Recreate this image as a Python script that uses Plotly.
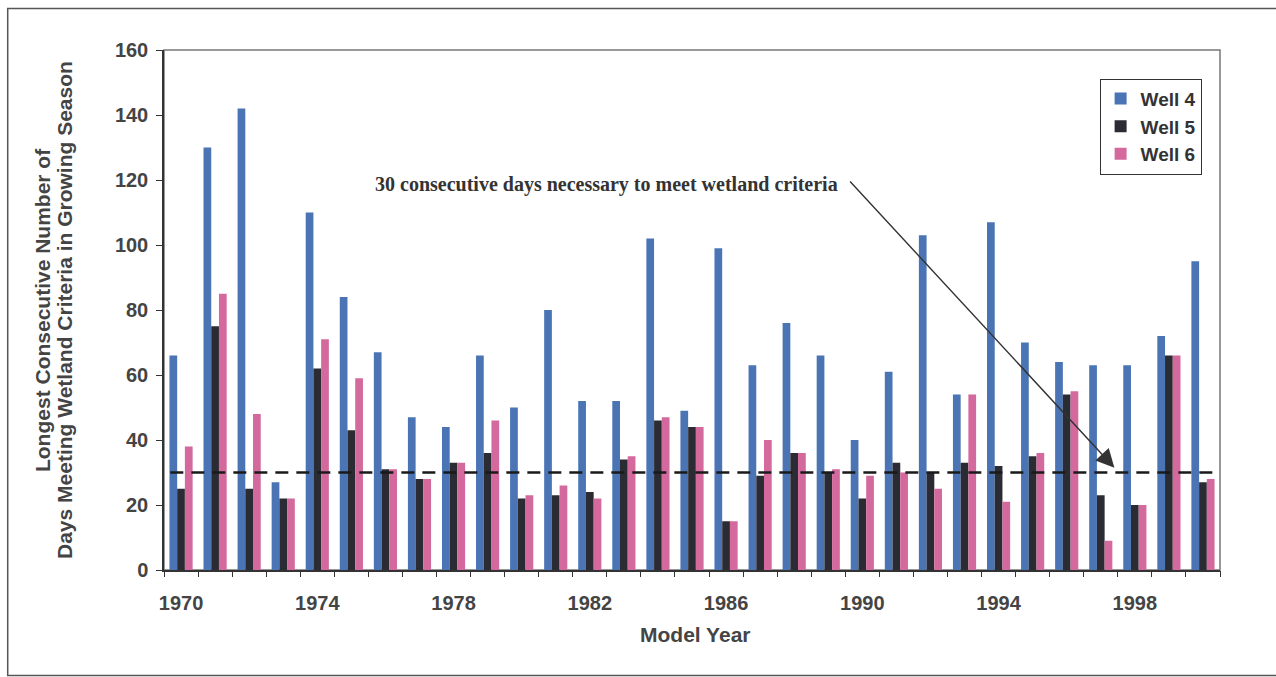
import plotly.graph_objects as go

# Model years and longest consecutive wet-day runs per well
years = list(range(1970, 2001))
well4 = [66, 130, 142, 27, 110, 84, 67, 47, 44, 66, 50, 80, 52, 52, 102, 49, 99, 63, 76, 66,
         40, 61, 103, 54, 107, 70, 64, 63, 63, 72, 95]
well5 = [25, 75, 25, 22, 62, 43, 31, 28, 33, 36, 22, 23, 24, 34, 46, 44, 15, 29, 36, 30,
         22, 33, 30, 33, 32, 35, 54, 23, 20, 66, 27]
well6 = [38, 85, 48, 22, 71, 59, 31, 28, 33, 46, 23, 26, 22, 35, 47, 44, 15, 40, 36, 31,
         29, 30, 25, 54, 21, 36, 55, 9, 20, 66, 28]
label_years = [1970, 1974, 1978, 1982, 1986, 1990, 1994, 1998]
y_ticks = [0, 20, 40, 60, 80, 100, 120, 140, 160]
THRESHOLD = 30

series = [("Well 4", well4, "#4a74b4"), ("Well 5", well5, "#2b2b33"), ("Well 6", well6, "#d4699d")]

fig = go.Figure()
for name, vals, color in series:
    fig.add_trace(go.Bar(x=years, y=vals, name=name, marker_color=color,
                         marker_line_width=0, legendgroup=name))

# invisible trace that carries the boundary tick marks on the overlay axis
fig.add_trace(go.Scatter(x=[years[0]], y=[0], xaxis="x2", mode="markers",
                         marker_opacity=0, showlegend=False, hoverinfo="skip"))

TEXT = "#444"
axis_font = dict(family="Liberation Sans, Arial", size=20, color=TEXT, weight="bold")
x_range = [years[0] - 0.5, years[-1] + 0.5]

fig.update_layout(
    width=1276, height=677,
    margin=dict(l=164, r=56, t=50, b=107),
    paper_bgcolor="white", plot_bgcolor="white",
    barmode="group", bargap=0.32, bargroupgap=0,
    showlegend=True,
    legend=dict(x=0.886, y=0.945, xanchor="left", yanchor="top",
                bordercolor="#333", borderwidth=1, bgcolor="white",
                font=dict(family="Liberation Sans, Arial", size=19, color="#333",
                          weight="bold"),
                tracegroupgap=5, traceorder="normal", itemwidth=30),
    xaxis=dict(range=x_range, tickmode="array", tickvals=label_years,
               ticktext=[str(y) for y in label_years], ticks="",
               tickfont=axis_font,
               showline=True, linecolor="#333", linewidth=1.5, showgrid=False,
               zeroline=False, ticklabelstandoff=14),
    xaxis2=dict(range=x_range, overlaying="x", side="bottom", anchor="y",
                tickmode="array", tickvals=[y + 0.5 for y in [years[0] - 1] + years],
                ticks="outside", ticklen=6, tickcolor="#333", tickwidth=1.2,
                showticklabels=False, showline=False, showgrid=False, zeroline=False),
    yaxis=dict(range=[0, 160], tickmode="array", tickvals=y_ticks, ticks="outside",
               ticklen=6, tickcolor="#333", tickwidth=1.2, tickfont=axis_font,
               showline=True, linecolor="#333", linewidth=1.5, showgrid=False,
               zeroline=False, ticklabelstandoff=4),
    font=dict(family="Liberation Sans, Arial"),
)

# 30-day wetland criterion
fig.add_shape(type="line", xref="paper", yref="y", x0=0.006, x1=0.998,
              y0=THRESHOLD, y1=THRESHOLD,
              line=dict(color="#1a1a1a", width=2.5, dash="13px,8px"))

# plot-area frame (top and right edges)
fig.add_shape(type="rect", xref="paper", yref="paper", x0=0, x1=1, y0=0, y1=1,
              line=dict(color="#777", width=1.5), layer="below")

# outer chart frame
fig.add_shape(type="rect", xref="paper", yref="paper",
              x0=-0.148, x1=1.131, y0=-0.203, y1=1.08,
              line=dict(color="#555", width=1.5), layer="below")

fig.add_annotation(
    x=1982.5, y=118.5, xref="x", yref="y", showarrow=False,
    text="<b>30 consecutive days necessary to meet wetland criteria</b>",
    font=dict(family="Liberation Serif, Times New Roman", size=20, color="#333"))

fig.add_annotation(
    x=1997.4, y=31.5, xref="x", yref="y", ax=1989.6, ay=120, axref="x", ayref="y",
    text="", showarrow=True, arrowhead=2, arrowsize=2.6, arrowwidth=1.4,
    arrowcolor="#333", standoff=0)

# two-line rotated y-axis title
y_title_lines = ["Longest Consecutive Number of",
                 "Days Meeting Wetland Criteria in Growing Season"]
for xpos, line in zip([-0.1155, -0.0947], y_title_lines):
    fig.add_annotation(
        x=xpos, y=0.5, xref="paper", yref="paper", textangle=-90, showarrow=False,
        xanchor="center", yanchor="middle", text=f"<b>{line}</b>",
        font=dict(family="Liberation Sans, Arial", size=21, color=TEXT))

fig.add_annotation(
    x=0.503, y=-0.124, xref="paper", yref="paper", showarrow=False,
    xanchor="center", yanchor="middle",
    text="<b>Model Year</b>",
    font=dict(family="Liberation Sans, Arial", size=21, color=TEXT))

fig.write_html("out.html")
